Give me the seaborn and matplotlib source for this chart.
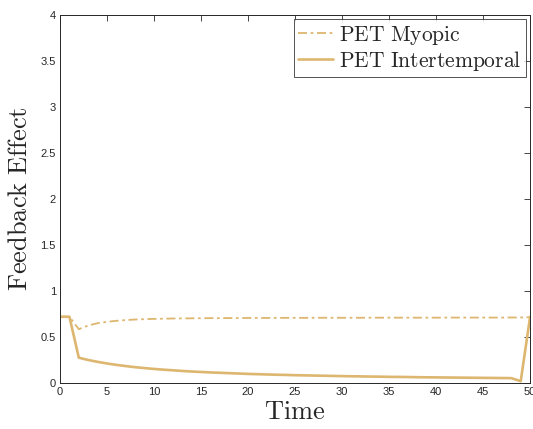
import numpy as np
import pandas as pd
import matplotlib
matplotlib.use("Agg")
import matplotlib.pyplot as plt
import seaborn as sns

time = list(range(0, 51))
myopic = [0.72, 0.72, 0.585, 0.625, 0.65, 0.665, 0.676, 0.684, 0.690, 0.694,
          0.697, 0.699, 0.701, 0.702, 0.703, 0.704, 0.705, 0.705, 0.706, 0.706,
          0.707, 0.707, 0.707, 0.708, 0.708, 0.708, 0.708, 0.709, 0.709, 0.709,
          0.709, 0.709, 0.709, 0.710, 0.710, 0.710, 0.710, 0.710, 0.710, 0.710,
          0.710, 0.711, 0.711, 0.711, 0.711, 0.711, 0.711, 0.711, 0.712, 0.712,
          0.715]
intertemporal = [0.72, 0.72, 0.275, 0.250, 0.230, 0.212, 0.197, 0.184, 0.172, 0.162,
                 0.153, 0.145, 0.138, 0.131, 0.125, 0.120, 0.115, 0.111, 0.107, 0.103,
                 0.099, 0.096, 0.093, 0.090, 0.088, 0.085, 0.083, 0.081, 0.079, 0.077,
                 0.075, 0.073, 0.072, 0.070, 0.069, 0.067, 0.066, 0.065, 0.063, 0.062,
                 0.061, 0.060, 0.059, 0.058, 0.057, 0.056, 0.055, 0.054, 0.053, 0.02,
                 0.72]
labels = [r"$\mathrm{PET\ Myopic}$", r"$\mathrm{PET\ Intertemporal}$"]

sns.set_style("white")
plt.rcParams["mathtext.fontset"] = "cm"
plt.rcParams["font.family"] = ["Liberation Sans", "DejaVu Sans"]

color = "#DDB66F"
df = pd.DataFrame({"Time": time * 2,
                   "val": myopic + intertemporal,
                   "series": [labels[0]] * len(time) + [labels[1]] * len(time)})

fig = plt.figure(figsize=(5.33, 4.29), dpi=100)
ax = fig.add_axes([0.1126, 0.1072, 0.882, 0.858])
sns.lineplot(data=df, x="Time", y="val", hue="series", style="series",
             palette=[color, color], dashes=[(5, 2, 1.5, 2), ""],
             ax=ax, legend=False)
lines = ax.get_lines()
lines[0].set_linewidth(1.3)
lines[1].set_linewidth(1.9)

ax.set_xlim(0, 50)
ax.set_ylim(0, 4)
ax.set_xticks(np.arange(0, 51, 5))
ax.set_yticks(np.arange(0, 4.01, 0.5))
ax.set_yticklabels(["0", "0.5", "1", "1.5", "2", "2.5", "3", "3.5", "4"])
ax.tick_params(direction="in", length=4, width=0.6, labelsize=8, colors="#262626",
               top=True, right=True, pad=3)
for s in ax.spines.values():
    s.set_visible(True)
    s.set_linewidth(0.7)
    s.set_color("#262626")
ax.set_xlabel(r"$\mathrm{Time}$", fontsize=19, labelpad=2)
ax.set_ylabel(r"$\mathrm{Feedback\ Effect}$", fontsize=19, labelpad=6)

leg = ax.legend(lines, labels, loc="upper right", fontsize=15.5, frameon=True,
                fancybox=False, edgecolor="#262626", handlelength=1.6,
                borderpad=0.2, labelspacing=0.1, handletextpad=0.3,
                borderaxespad=0.2)
leg.get_frame().set_linewidth(0.7)

fig.savefig("out.png", dpi=100)
